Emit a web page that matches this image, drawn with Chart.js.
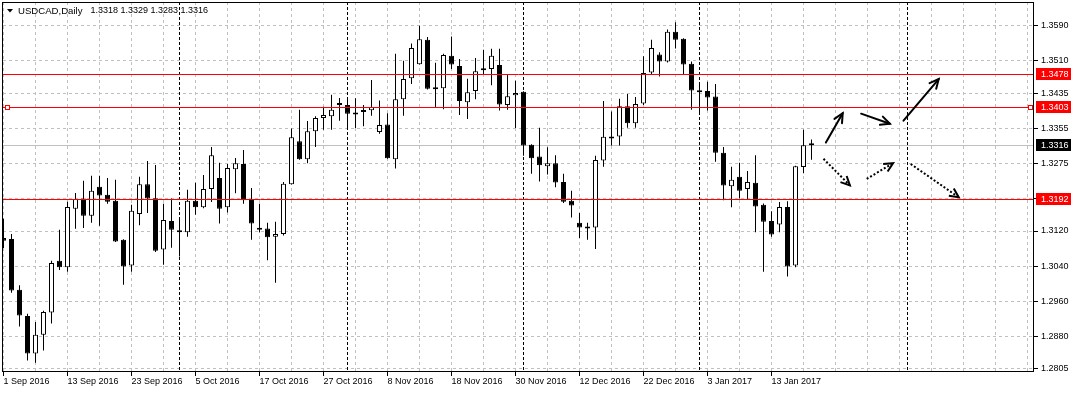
<!DOCTYPE html>
<html>
<head>
<meta charset="utf-8">
<title>USDCAD Daily</title>
<script src="https://cdn.jsdelivr.net/npm/chart.js@4.4.1/dist/chart.umd.min.js"></script>
<style>
  html, body { margin: 0; padding: 0; background: #fff; }
  #wrap { width: 1074px; height: 393px; position: relative; }
</style>
</head>
<body>
<div id="wrap"><canvas id="candles"></canvas></div>
<script>
// daily OHLC, 1 Sep 2016 .. 20 Jan 2017 (one value per bar)
const open = [1.3104, 1.3102, 1.2986, 1.2926, 1.2840, 1.2883, 1.2934, 1.3052, 1.3037, 1.3171,
  1.3194, 1.3155, 1.3221, 1.3203, 1.3189, 1.3100, 1.3041, 1.3159, 1.3227, 1.3195,
  1.3078, 1.3143, 1.3122, 1.3117, 1.3189, 1.3174, 1.3216, 1.3241, 1.3174, 1.3261,
  1.3273, 1.3191, 1.3127, 1.3126, 1.3107, 1.3113, 1.3227, 1.3325, 1.3284, 1.3348,
  1.3378, 1.3382, 1.3408, 1.3408, 1.3389, 1.3395, 1.3396, 1.3346, 1.3363, 1.3284,
  1.3421, 1.3469, 1.3501, 1.3557, 1.3446, 1.3446, 1.3520, 1.3497, 1.3414, 1.3440,
  1.3490, 1.3490, 1.3499, 1.3408, 1.3430, 1.3438, 1.3317, 1.3290, 1.3268, 1.3275,
  1.3232, 1.3189, 1.3139, 1.3129, 1.3128, 1.3281, 1.3335, 1.3336, 1.3405, 1.3366,
  1.3411, 1.3482, 1.3523, 1.3507, 1.3575, 1.3559, 1.3502, 1.3437, 1.3440, 1.3427,
  1.3299, 1.3222, 1.3244, 1.3216, 1.3230, 1.3180, 1.3143, 1.3135, 1.3175, 1.3041,
  1.3266, 1.3318];
const high = [1.3148, 1.3113, 1.2996, 1.2931, 1.2912, 1.2938, 1.3052, 1.3123, 1.3187, 1.3207,
  1.3235, 1.3246, 1.3246, 1.3241, 1.3237, 1.3101, 1.3180, 1.3244, 1.3280, 1.3271,
  1.3182, 1.3194, 1.3149, 1.3214, 1.3230, 1.3248, 1.3312, 1.3276, 1.3273, 1.3287,
  1.3305, 1.3218, 1.3182, 1.3139, 1.3141, 1.3232, 1.3354, 1.3397, 1.3371, 1.3382,
  1.3404, 1.3431, 1.3424, 1.3424, 1.3423, 1.3408, 1.3465, 1.3418, 1.3389, 1.3525,
  1.3509, 1.3548, 1.3589, 1.3563, 1.3504, 1.3525, 1.3564, 1.3513, 1.3468, 1.3515,
  1.3534, 1.3536, 1.3536, 1.3478, 1.3463, 1.3439, 1.3318, 1.3356, 1.3311, 1.3293,
  1.3251, 1.3212, 1.3161, 1.3139, 1.3292, 1.3417, 1.3393, 1.3422, 1.3433, 1.3426,
  1.3519, 1.3557, 1.3528, 1.3580, 1.3597, 1.3560, 1.3507, 1.3456, 1.3461, 1.3456,
  1.3312, 1.3267, 1.3276, 1.3257, 1.3293, 1.3183, 1.3165, 1.3186, 1.3188, 1.3269,
  1.3351, 1.3329];
const low = [1.3081, 1.2979, 1.2902, 1.2824, 1.2819, 1.2847, 1.2909, 1.3031, 1.3027, 1.3125,
  1.3127, 1.3139, 1.3132, 1.3182, 1.3095, 1.2997, 1.3027, 1.3133, 1.3161, 1.3072,
  1.3043, 1.3082, 1.3062, 1.3107, 1.3157, 1.3172, 1.3186, 1.3137, 1.3162, 1.3206,
  1.3182, 1.3100, 1.3117, 1.3053, 1.3002, 1.3110, 1.3226, 1.3283, 1.3275, 1.3312,
  1.3351, 1.3351, 1.3372, 1.3355, 1.3355, 1.3359, 1.3383, 1.3342, 1.3285, 1.3263,
  1.3383, 1.3456, 1.3500, 1.3443, 1.3403, 1.3398, 1.3490, 1.3385, 1.3376, 1.3421,
  1.3476, 1.3453, 1.3395, 1.3397, 1.3355, 1.3292, 1.3251, 1.3233, 1.3249, 1.3220,
  1.3184, 1.3151, 1.3104, 1.3100, 1.3079, 1.3267, 1.3315, 1.3315, 1.3356, 1.3356,
  1.3408, 1.3477, 1.3473, 1.3505, 1.3537, 1.3477, 1.3397, 1.3387, 1.3395, 1.3278,
  1.3190, 1.3174, 1.3194, 1.3191, 1.3117, 1.3027, 1.3107, 1.3117, 1.3016, 1.3037,
  1.3252, 1.3283];
const close = [1.3098, 1.2984, 1.2927, 1.2840, 1.2883, 1.2935, 1.3047, 1.3037, 1.3175, 1.3193,
  1.3155, 1.3212, 1.3201, 1.3187, 1.3096, 1.3039, 1.3166, 1.3227, 1.3194, 1.3075,
  1.3145, 1.3123, 1.3117, 1.3189, 1.3174, 1.3216, 1.3293, 1.3171, 1.3264, 1.3275,
  1.3190, 1.3137, 1.3123, 1.3106, 1.3113, 1.3228, 1.3334, 1.3284, 1.3348, 1.3378,
  1.3385, 1.3397, 1.3408, 1.3388, 1.3386, 1.3392, 1.3403, 1.3362, 1.3286, 1.3421,
  1.3467, 1.3538, 1.3558, 1.3445, 1.3444, 1.3522, 1.3500, 1.3417, 1.3437, 1.3485,
  1.3487, 1.3520, 1.3409, 1.3428, 1.3435, 1.3315, 1.3286, 1.3270, 1.3275, 1.3231,
  1.3187, 1.3178, 1.3128, 1.3126, 1.3282, 1.3335, 1.3331, 1.3405, 1.3366, 1.3410,
  1.3481, 1.3538, 1.3507, 1.3575, 1.3557, 1.3500, 1.3441, 1.3437, 1.3425, 1.3299,
  1.3224, 1.3237, 1.3212, 1.3232, 1.3176, 1.3141, 1.3112, 1.3175, 1.3039, 1.3268,
  1.3316, 1.3316];

// one date label every 8 bars
const dateLabels = ['1 Sep 2016', '13 Sep 2016', '23 Sep 2016', '5 Oct 2016', '17 Oct 2016',
  '27 Oct 2016', '8 Nov 2016', '18 Nov 2016', '30 Nov 2016', '12 Dec 2016',
  '22 Dec 2016', '3 Jan 2017', '13 Jan 2017'];
const priceTicks = [1.2805, 1.2880, 1.2960, 1.3040, 1.3120, 1.3195, 1.3275, 1.3355, 1.3435, 1.3510, 1.3590];

const levels = [1.3478, 1.3403, 1.3192];   // red horizontal lines
const bid = 1.3316;
const monthStarts = [22, 43, 65, 87, 113];  // bar index of period separators
const header = ['USDCAD,Daily', '1.3318 1.3329 1.3283 1.3316'];

// hand drawn arrows: [barFrom, priceFrom, barTo, priceTo]
const solidArrows = [[102.8, 1.3322, 104.9, 1.3389], [107.2, 1.3388, 110.8, 1.3365], [112.5, 1.3372, 116.9, 1.3467]];
const dottedArrows = [[102.5, 1.3285, 105.8, 1.3224], [107.9, 1.3239, 111.2, 1.3275], [113.4, 1.3273, 119.4, 1.3197]];

const gridSteps = [];
for (let i = 0; i <= 128; i += 4) gridSteps.push(i);

Chart.defaults.font.family = '"Liberation Sans", Arial, sans-serif';
Chart.defaults.font.size = 9;
Chart.defaults.color = '#000';

function drawArrow(ctx, x1, y1, x2, y2, dotted) {
  ctx.setLineDash(dotted ? [2, 2] : []);
  ctx.beginPath();
  ctx.moveTo(x1, y1);
  ctx.lineTo(x2, y2);
  ctx.stroke();
  const a = Math.atan2(y2 - y1, x2 - x1);
  const len = 10;
  ctx.setLineDash([]);
  ctx.beginPath();
  ctx.moveTo(x2 - len * Math.cos(a - 0.45), y2 - len * Math.sin(a - 0.45));
  ctx.lineTo(x2, y2);
  ctx.lineTo(x2 - len * Math.cos(a + 0.45), y2 - len * Math.sin(a + 0.45));
  ctx.stroke();
}

const overlay = {
  id: 'overlay',
  beforeDatasetsDraw(chart) {
    const {ctx, chartArea: a, scales: {x, y}} = chart;
    ctx.save();
    ctx.lineWidth = 1;
    ctx.strokeStyle = '#000';
    ctx.setLineDash([3, 2]);
    monthStarts.forEach(i => {
      const px = Math.round(x.getPixelForValue(i) - 0.5) + 0.5;
      ctx.beginPath();
      ctx.moveTo(px, a.top);
      ctx.lineTo(px, a.bottom);
      ctx.stroke();
    });
    ctx.setLineDash([]);
    ctx.strokeStyle = '#c0c0c0';
    const by = Math.round(y.getPixelForValue(bid)) + 0.5;
    ctx.beginPath();
    ctx.moveTo(a.left, by);
    ctx.lineTo(a.right, by);
    ctx.stroke();
    ctx.restore();
  },
  afterDatasetsDraw(chart) {
    const {ctx, chartArea: a, scales: {x, y}} = chart;
    ctx.save();
    ctx.lineWidth = 1;
    ctx.strokeStyle = '#ff0000';
    levels.forEach(v => {
      const py = Math.round(y.getPixelForValue(v)) + 0.5;
      ctx.beginPath();
      ctx.moveTo(a.left, py);
      ctx.lineTo(a.right, py);
      ctx.stroke();
    });
    // selection squares on the middle level
    const sy = Math.round(y.getPixelForValue(levels[1])) + 0.5;
    ctx.fillStyle = '#fff';
    [a.left + 2.5, a.right - 5.5].forEach(sx => {
      ctx.fillRect(sx, sy - 2, 4, 4);
      ctx.strokeRect(sx, sy - 2, 4, 4);
    });
    ctx.strokeStyle = '#000';
    ctx.lineWidth = 2;
    ctx.lineCap = 'round';
    solidArrows.forEach(r => drawArrow(ctx, x.getPixelForValue(r[0]), y.getPixelForValue(r[1]),
      x.getPixelForValue(r[2]), y.getPixelForValue(r[3]), false));
    ctx.lineCap = 'butt';
    dottedArrows.forEach(r => drawArrow(ctx, x.getPixelForValue(r[0]), y.getPixelForValue(r[1]),
      x.getPixelForValue(r[2]), y.getPixelForValue(r[3]), true));
    ctx.restore();
  },
  afterDraw(chart) {
    const {ctx, chartArea: a, scales: {y}} = chart;
    ctx.save();
    ctx.strokeStyle = '#000';
    ctx.lineWidth = 1;
    ctx.strokeRect(a.left - 0.5, a.top + 0.5, a.right - a.left, a.bottom - a.top - 1);
    // price labels on the axis
    ctx.font = '9px "Liberation Sans", Arial, sans-serif';
    ctx.textBaseline = 'middle';
    const tag = (v, bg) => {
      const py = Math.round(y.getPixelForValue(v));
      ctx.fillStyle = bg;
      ctx.fillRect(a.right + 2, py - 6, 35, 12);
      ctx.fillStyle = '#fff';
      ctx.fillText(v.toFixed(4), a.right + 7, py + 0.5);
    };
    levels.forEach(v => tag(v, '#ff0000'));
    tag(bid, '#000');
    // header
    ctx.fillStyle = '#000';
    ctx.beginPath();
    ctx.moveTo(7, 9);
    ctx.lineTo(13, 9);
    ctx.lineTo(10, 12.5);
    ctx.closePath();
    ctx.fill();
    ctx.font = '9.6px "Liberation Sans", Arial, sans-serif';
    ctx.fillText(header[0], 18, 11);
    ctx.font = '9px "Liberation Sans", Arial, sans-serif';
    ctx.fillText(header[1], 90.5, 11);
    ctx.restore();
  }
};

new Chart(document.getElementById('candles'), {
  type: 'bar',
  data: {
    datasets: [{
      data: open.map((o, i) => ({x: i, y: [o, close[i]]})),
      backgroundColor: c => close[c.dataIndex] > open[c.dataIndex] ? '#ffffff' : '#000000',
      borderColor: '#000',
      borderWidth: 1,
      borderSkipped: false,
      inflateAmount: 0,
      barThickness: 5,
      minBarLength: 2,
      grouped: false,
      order: 0
    }, {
      data: low.map((l, i) => ({x: i, y: [l, high[i]]})),
      backgroundColor: '#000',
      borderWidth: 0,
      inflateAmount: 0,
      barThickness: 1,
      grouped: false,
      order: 1
    }]
  },
  options: {
    responsive: true,
    maintainAspectRatio: false,
    animation: false,
    events: [],
    layout: { padding: { left: 3, top: 2, right: 0, bottom: 0 } },
    plugins: { legend: { display: false }, tooltip: { enabled: false } },
    scales: {
      x: {
        type: 'linear',
        offset: false,
        min: -0.0625,
        max: 128.8125,
        afterBuildTicks: s => { s.ticks = gridSteps.map(v => ({value: v})); },
        afterFit: s => { s.height = 21; s.paddingLeft = 0; s.paddingRight = 0; },
        ticks: {
          autoSkip: false,
          maxRotation: 0,
          align: 'start',
          padding: 0,
          callback: v => (v % 8 === 0 ? (dateLabels[v / 8] || '') : '')
        },
        grid: {
          offset: false,
          color: '#c0c0c0',
          tickLength: 4,
          tickBorderDash: [],
          tickColor: c => (c.index % 2 === 0 && c.index / 2 < dateLabels.length ? '#000' : 'rgba(0,0,0,0)')
        },
        border: { display: false, dash: [3, 3] }
      },
      y: {
        position: 'right',
        min: 1.2798,
        max: 1.3643,
        afterBuildTicks: s => { s.ticks = priceTicks.map(v => ({value: v})); },
        afterFit: s => { s.width = 40; s.paddingTop = 0; s.paddingBottom = 0; },
        ticks: { padding: 3, callback: v => v.toFixed(4) },
        grid: { color: '#c0c0c0', tickLength: 4, tickColor: '#000', tickBorderDash: [] },
        border: { display: false, dash: [3, 3] }
      }
    }
  },
  plugins: [overlay]
});
</script>
</body>
</html>
